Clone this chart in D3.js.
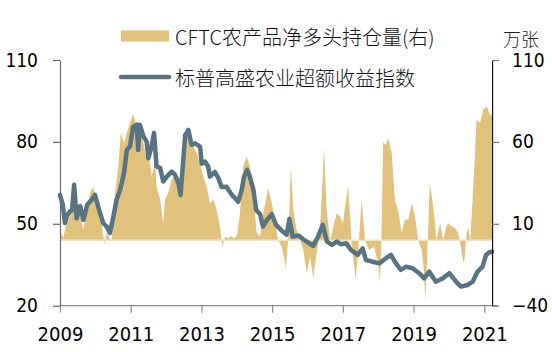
<!DOCTYPE html>
<html><head><meta charset="utf-8">
<script src="https://cdn.jsdelivr.net/npm/d3@7"></script>
<style>
html,body{margin:0;padding:0;background:#fff;}
svg{display:block;}
</style></head>
<body>
<svg id="chart" width="552" height="352"></svg>
<script>
// ---- data ----
const xTickYears = [2009, 2011, 2013, 2015, 2017, 2019, 2021];
const leftTicks = [20, 50, 80, 110];
const rightTicks = [-40, 10, 60, 110];
const legendLabels = ["CFTC农产品净多头持仓量(右)", "标普高盛农业超额收益指数"];
const unitLabel = "万张";

// S&P GSCI agriculture excess return index (left axis)
const indexTimes = [2009.00,2009.08,2009.14,2009.20,2009.28,2009.34,2009.40,2009.47,2009.57,2009.66,2009.77,2009.90,2009.99,2010.08,2010.22,2010.32,2010.41,2010.51,2010.60,2010.70,2010.81,2010.89,2010.98,2011.07,2011.17,2011.21,2011.26,2011.36,2011.45,2011.50,2011.59,2011.66,2011.73,2011.83,2011.92,2012.02,2012.16,2012.25,2012.35,2012.41,2012.54,2012.63,2012.72,2012.82,2012.96,2013.01,2013.10,2013.19,2013.24,2013.38,2013.48,2013.57,2013.71,2013.86,2013.98,2014.04,2014.14,2014.20,2014.29,2014.37,2014.47,2014.55,2014.66,2014.74,2014.85,2014.99,2015.11,2015.27,2015.41,2015.49,2015.58,2015.75,2015.88,2016.01,2016.16,2016.30,2016.43,2016.55,2016.69,2016.83,2016.95,2017.09,2017.23,2017.42,2017.56,2017.65,2017.84,2018.03,2018.22,2018.36,2018.50,2018.64,2018.79,2018.97,2019.16,2019.30,2019.44,2019.63,2019.82,2020.01,2020.20,2020.34,2020.53,2020.67,2020.81,2020.95,2021.05,2021.13,2021.22];
const indexValues = [60.6,57,50.3,53,54.5,55,64.3,52,56.5,51.4,57,58.8,60.6,56.3,50.3,49,46.6,52.6,58.8,62.4,68.6,77,78.3,85.6,86.3,77,86.3,82,80.1,74,78.3,83.3,71,70.5,65.5,67.3,69.1,68,64.9,60.6,82.5,84.4,78.9,79.5,78.3,72,72.8,71,67.3,69,66.7,63.5,63.6,60.6,59,58.1,62.4,67,69.8,67.3,62.4,55,53.5,49,51.4,53.5,49.6,47.5,46,51.8,45.3,45.7,44.3,43.2,41.9,45.3,49.6,43.5,42.3,43.5,42.5,42.9,40.4,38.6,41,36.8,36.1,35.5,37.4,38.6,35.5,33.1,34.3,33.7,31.9,30,32.5,28.8,30,31.9,28.8,27,27.6,28.8,32.5,34.3,38.6,39.5,39.8];

// CFTC agricultural net long positions, 10k contracts (right axis)
const cftcTimes = [2009.00,2009.06,2009.09,2009.19,2009.28,2009.38,2009.47,2009.57,2009.66,2009.76,2009.85,2009.94,2010.04,2010.13,2010.22,2010.27,2010.32,2010.41,2010.46,2010.56,2010.65,2010.72,2010.81,2010.89,2010.98,2011.07,2011.17,2011.26,2011.36,2011.45,2011.50,2011.59,2011.69,2011.73,2011.83,2011.92,2011.97,2012.06,2012.16,2012.25,2012.35,2012.44,2012.54,2012.63,2012.72,2012.87,2012.96,2013.05,2013.15,2013.24,2013.34,2013.43,2013.53,2013.59,2013.67,2013.75,2013.84,2013.92,2014.01,2014.09,2014.18,2014.28,2014.37,2014.47,2014.56,2014.66,2014.75,2014.89,2014.99,2015.08,2015.17,2015.27,2015.39,2015.46,2015.53,2015.60,2015.69,2015.79,2015.88,2015.98,2016.07,2016.16,2016.26,2016.35,2016.47,2016.54,2016.64,2016.73,2016.83,2016.92,2017.00,2017.09,2017.15,2017.25,2017.36,2017.44,2017.53,2017.63,2017.74,2017.88,2018.00,2018.05,2018.09,2018.14,2018.21,2018.28,2018.38,2018.47,2018.57,2018.66,2018.76,2018.85,2018.95,2019.04,2019.13,2019.23,2019.28,2019.33,2019.38,2019.46,2019.56,2019.65,2019.75,2019.84,2019.92,2019.98,2020.08,2020.17,2020.26,2020.34,2020.41,2020.45,2020.50,2020.54,2020.60,2020.69,2020.78,2020.88,2020.97,2021.07,2021.16,2021.22];
const cftcValues = [7.5,3,1.5,10.6,14.5,20.6,16.7,14.5,6.3,18.5,28.9,32.8,22.8,18.5,2.3,-2.8,4.5,1,0,28.9,45,65.4,59.3,65.6,71.5,77,69.4,67.4,59.3,49,54,38.9,47,32.8,24.7,10.4,24.7,28.8,36.9,38.9,36.9,41.9,61.3,63.3,59.3,53.2,47,38.9,32.8,22.7,24.7,18.5,7.4,-3.8,2.3,1,2.5,1,3,16.5,45,51,45,28.8,4.5,2.3,16.5,31.8,22.7,12.4,0,-3.8,-17,2.3,45,18.5,6.3,0,-5.9,-20,-10,-23,-7.9,4.5,56.2,18.5,0,8.4,16.5,14.5,10,24.7,32.8,-2,-24,-5,24.7,0,-6,-4,-14,-26,0,60,58,62.3,53.2,24.7,17.5,4.5,12.4,12.4,22.7,14.5,0,-6,-16,-37,-12,34.8,20,0,10.4,0,8,10.4,8.4,7.5,4.5,-4,-14,-10,4.5,8,0,32.8,73.5,71.5,79.6,81.6,76.5,76];

// ---- drawing ----
const svg = d3.select("#chart");
const numFont = "'DejaVu Sans Condensed','DejaVu Sans',sans-serif";
const cjkFont = "'Noto Sans CJK SC','Noto Sans',sans-serif";

const x = d3.scaleLinear().domain([2009, 2021]).range([60, 484.3]);
const yL = d3.scaleLinear().domain([20, 110]).range([305.7, 60]);
const yR = d3.scaleLinear().domain([-40, 110]).range([305.7, 60]);
const xEnd = x(d3.max(cftcTimes));

const cftc = cftcTimes.map((t, i) => ({t, v: cftcValues[i]}));
const idx = indexTimes.map((t, i) => ({t, v: indexValues[i]}));

// area
svg.append("path")
  .datum(cftc)
  .attr("fill", "#e0c27c")
  .attr("d", d3.area().x(d => x(d.t)).y0(yR(0)).y1(d => yR(d.v)));

// zero baseline
svg.append("line")
  .attr("x1", x(2009)).attr("x2", xEnd)
  .attr("y1", yR(0)).attr("y2", yR(0))
  .attr("stroke", "#f1e4c6").attr("stroke-width", 1.5);

// index line
svg.append("path")
  .datum(idx)
  .attr("fill", "none")
  .attr("stroke", "#587482")
  .attr("stroke-width", 4.5)
  .attr("stroke-linejoin", "round")
  .attr("stroke-linecap", "round")
  .attr("d", d3.line().x(d => x(d.t)).y(d => yL(d.v)));

// x axis
const gx = svg.append("g").attr("transform", `translate(0,${yL(20)})`)
  .call(d3.axisBottom(x).tickValues(xTickYears).tickFormat(d3.format("d")).tickSize(7).tickSizeOuter(0).tickPadding(14));
gx.select(".domain").attr("d", `M${x(2009)},0H${xEnd + 5}`).attr("stroke", "#8a8a8a").attr("stroke-width", 1.2);
gx.selectAll(".tick line").attr("stroke", "#8a8a8a").attr("stroke-width", 1.2);
gx.selectAll(".tick text").attr("font-family", numFont).attr("font-size", 20).attr("fill", "#000");

// left axis
const gl = svg.append("g").attr("transform", `translate(${x(2009)},0)`)
  .call(d3.axisLeft(yL).tickValues(leftTicks).tickSize(7).tickSizeOuter(0).tickPadding(15));
gl.select(".domain").attr("stroke", "#6a6a6a").attr("stroke-width", 1.2);
gl.selectAll(".tick line").attr("stroke", "#6a6a6a").attr("stroke-width", 1.2);
gl.selectAll(".tick text").attr("font-family", numFont).attr("font-size", 19).attr("fill", "#000");

// right axis
const gr = svg.append("g").attr("transform", `translate(${xEnd},0)`)
  .call(d3.axisRight(yR).tickValues(rightTicks).tickSize(7).tickSizeOuter(0).tickPadding(13));
gr.select(".domain").attr("stroke", "#111").attr("stroke-width", 1.2);
gr.selectAll(".tick line").attr("stroke", "#777").attr("stroke-width", 1.2);
gr.selectAll(".tick text").attr("font-family", numFont).attr("font-size", 19).attr("fill", "#000");

// unit label
svg.append("text").attr("x", 521).attr("y", 37.5)
  .attr("text-anchor", "middle").attr("dominant-baseline", "central")
  .attr("font-family", cjkFont).attr("font-weight", 300).attr("font-size", 18)
  .attr("fill", "#222").text(unitLabel);

// legend
const lg = svg.append("g");
lg.append("rect").attr("x", 121).attr("y", 30.5).attr("width", 48).attr("height", 11).attr("fill", "#e0c27c");
lg.append("text").attr("x", 175).attr("y", 36)
  .attr("dominant-baseline", "central")
  .attr("font-family", cjkFont).attr("font-weight", 300).attr("font-size", 20)
  .attr("fill", "#111").text(legendLabels[0]);
lg.append("line").attr("x1", 121).attr("x2", 169).attr("y1", 77).attr("y2", 77)
  .attr("stroke", "#587482").attr("stroke-width", 4.5).attr("stroke-linecap", "round");
lg.append("text").attr("x", 175).attr("y", 77)
  .attr("dominant-baseline", "central")
  .attr("font-family", cjkFont).attr("font-weight", 300).attr("font-size", 20)
  .attr("fill", "#111").text(legendLabels[1]);
</script>
</body></html>
